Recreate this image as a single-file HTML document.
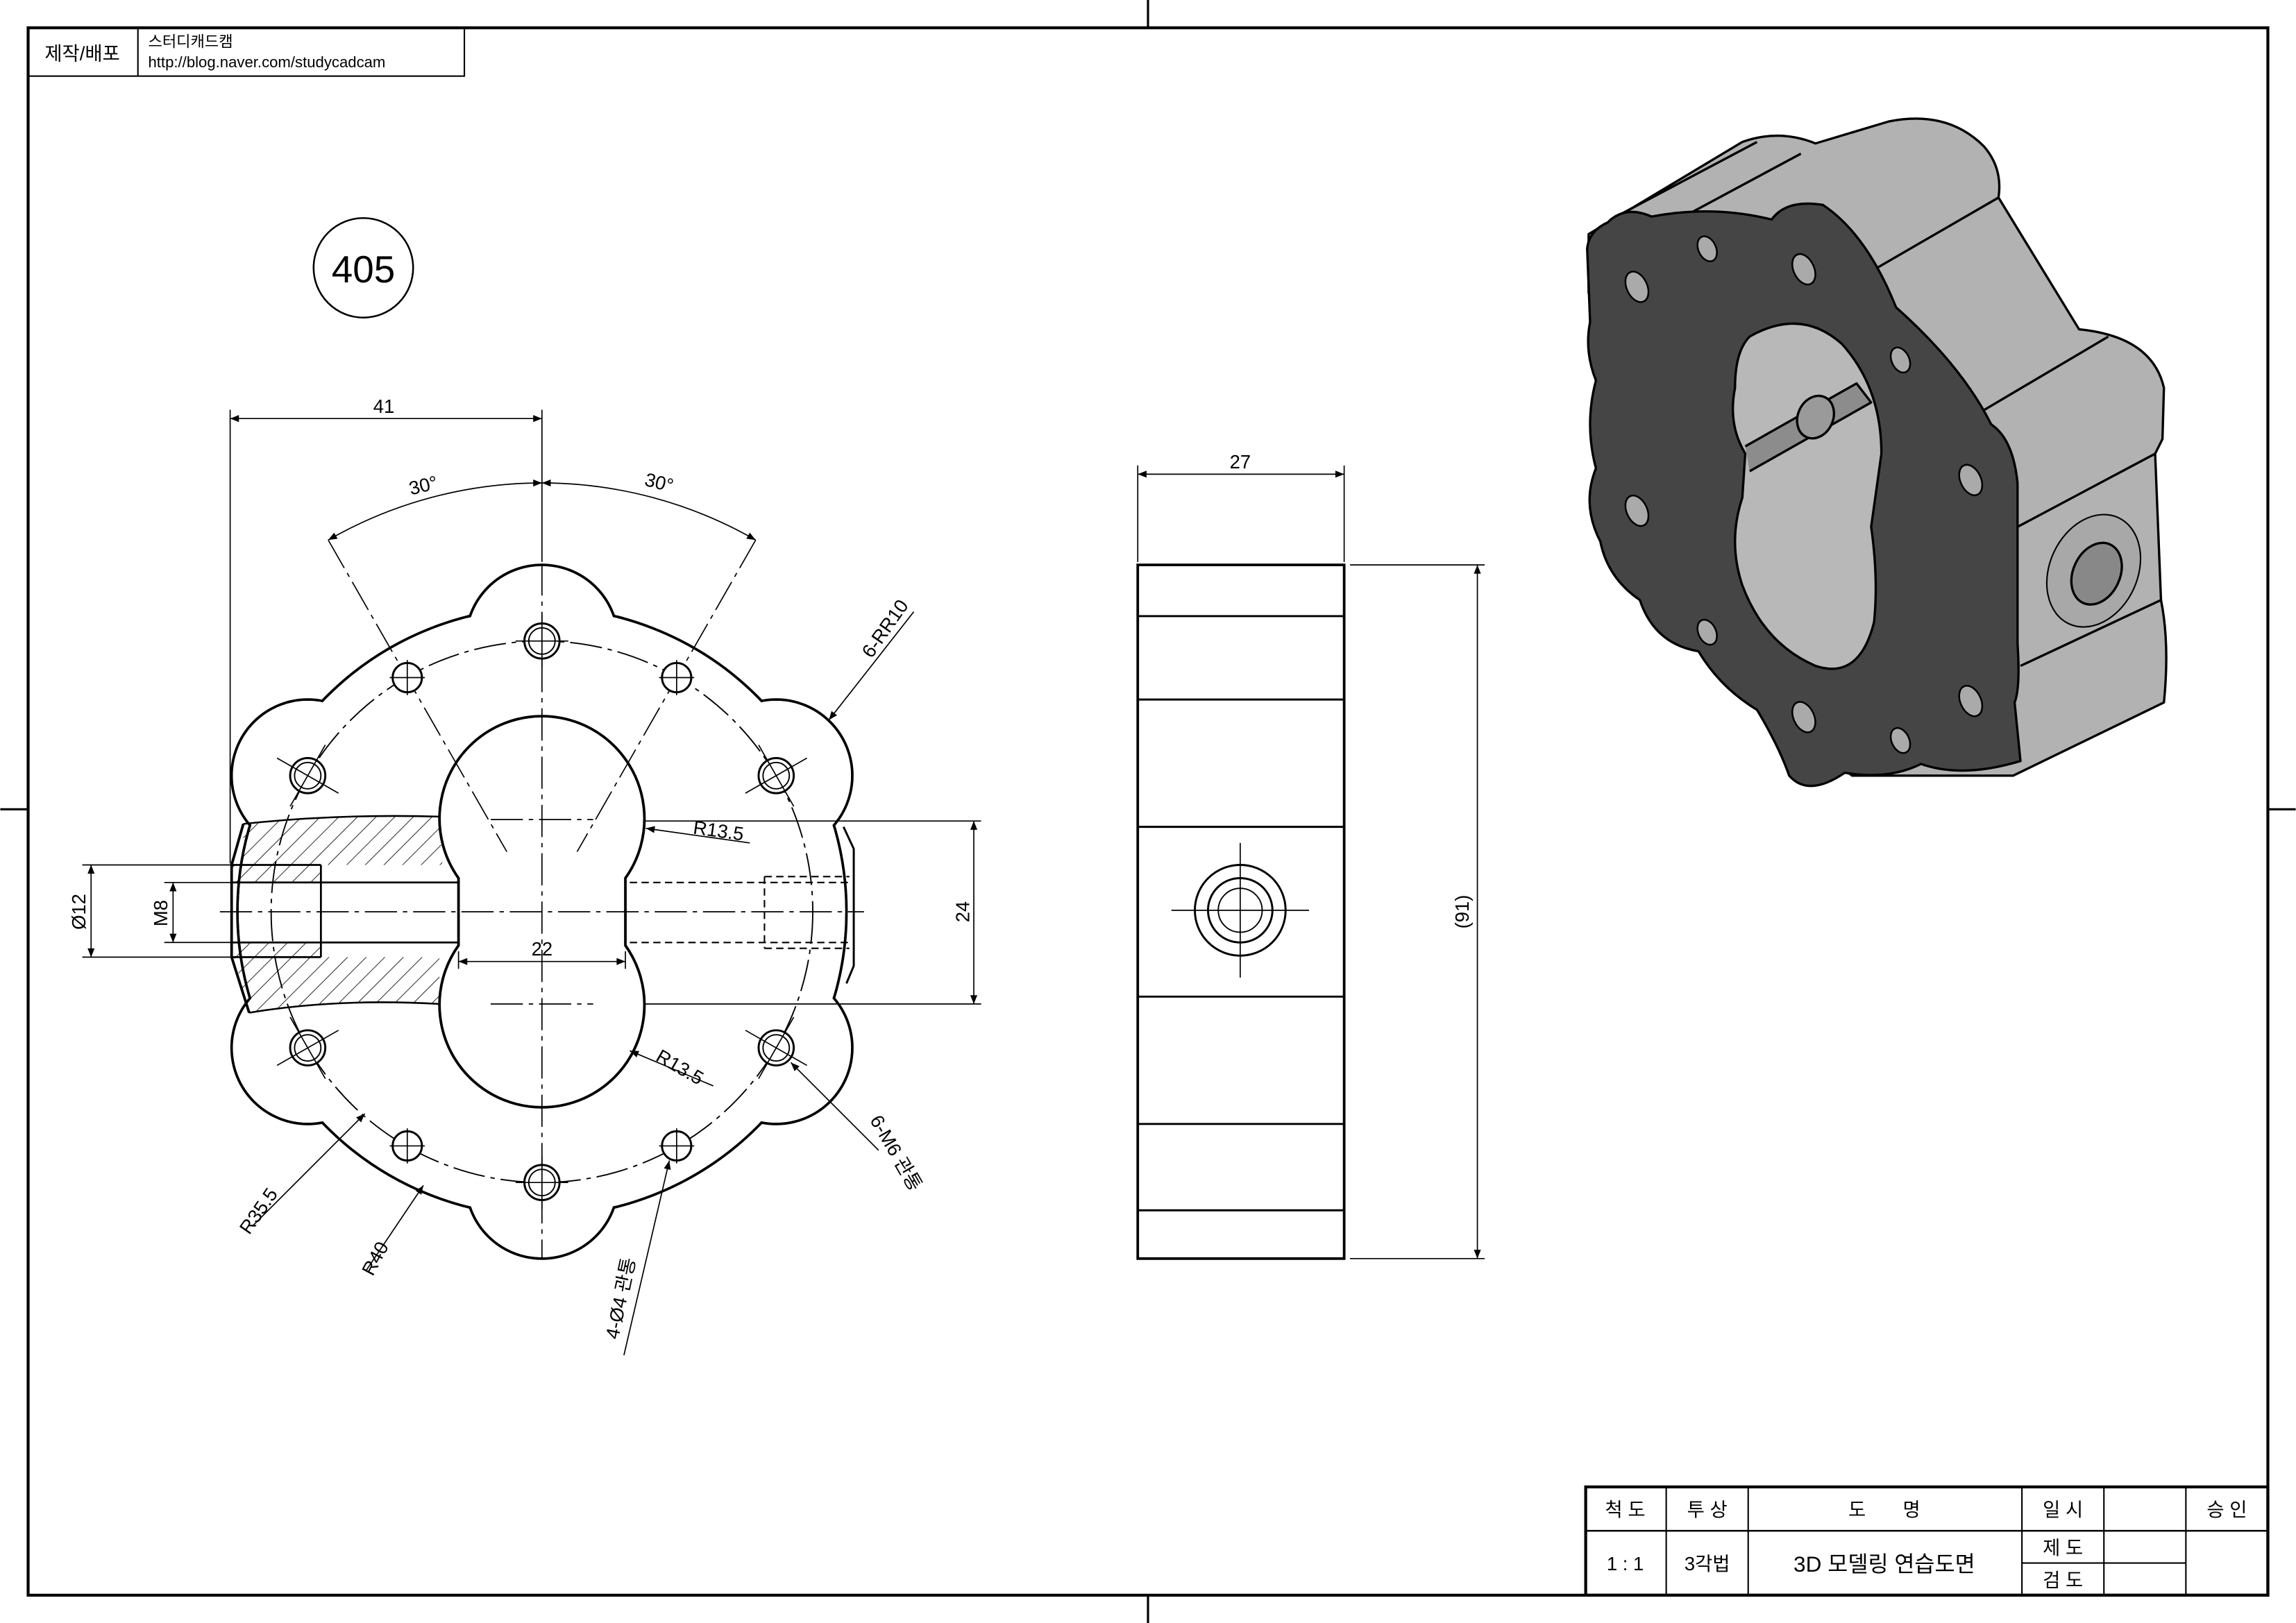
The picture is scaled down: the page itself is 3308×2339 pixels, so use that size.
<!DOCTYPE html>
<html><head><meta charset="utf-8"><style>
html,body{margin:0;padding:0;background:#fff;}
svg{display:block;}
text{font-family:"Liberation Sans","Noto Sans CJK KR",sans-serif;fill:#000;}
</style></head><body>
<svg width="3308" height="2339" viewBox="0 0 1568 1109" xmlns="http://www.w3.org/2000/svg">
<defs>
<pattern id="hat" width="9" height="9" patternUnits="userSpaceOnUse" patternTransform="rotate(45)">
<line x1="0" y1="0" x2="0" y2="9" stroke="#000" stroke-width="0.8"/>
</pattern>
<marker id="ar" viewBox="0 0 10 10" refX="10" refY="5" markerWidth="9" markerHeight="6" orient="auto-start-reverse" markerUnits="userSpaceOnUse">
<path d="M0,1 L10,5 L0,9 z" fill="#000"/>
</marker>
</defs>
<rect width="1568" height="1109" fill="#fff"/>
<rect x="19" y="19" width="1530" height="1071" fill="none" stroke="#000" stroke-width="2"/>
<g stroke="#000" stroke-width="1.5">
<line x1="784" y1="0" x2="784" y2="19"/><line x1="784" y1="1090" x2="784" y2="1109"/>
<line x1="0" y1="553" x2="19" y2="553"/><line x1="1549" y1="553" x2="1568" y2="553"/>
</g>
<rect x="19" y="19" width="298" height="33" fill="none" stroke="#000" stroke-width="1"/>
<line x1="94" y1="19" x2="94" y2="52" stroke="#000"/>
<text x="56" y="41" font-size="13" text-anchor="middle">제작/배포</text>
<text x="101" y="32" font-size="10.5">스터디캐드캠</text>
<text x="101" y="46" font-size="10.5">http://blog.naver.com/studycadcam</text>
<circle cx="248" cy="183" r="34" fill="none" stroke="#000" stroke-width="1.2"/>
<text x="248" y="193" font-size="26" text-anchor="middle">405</text>

<g stroke="#000" stroke-width="1.8" fill="#fff">
<circle cx="370" cy="623" r="208"/>
<circle cx="370" cy="438" r="52"/><circle cx="370" cy="808" r="52"/>
<circle cx="210" cy="530" r="52"/><circle cx="530" cy="530" r="52"/>
<circle cx="210" cy="716" r="52"/><circle cx="530" cy="716" r="52"/>
</g>
<g fill="#fff" stroke="none">
<circle cx="370" cy="623" r="207.1"/>
<circle cx="370" cy="438" r="51.1"/><circle cx="370" cy="808" r="51.1"/>
<circle cx="210" cy="530" r="51.1"/><circle cx="530" cy="530" r="51.1"/>
<circle cx="210" cy="716" r="51.1"/><circle cx="530" cy="716" r="51.1"/>
</g>
<path d="M166,563 Q230,556 300,558 L302,591 L219,591 L219,603 L158,603 L158,591 L166,591 Z" fill="url(#hat)" stroke="none"/>
<path d="M158,644 L219,644 L219,654 L300,654 L300,686 Q230,682 170,692 L160,655 Z" fill="url(#hat)" stroke="none"/>
<path d="M166,563 Q230,556 300,558" fill="none" stroke="#000" stroke-width="1.2"/>
<path d="M170,692 Q230,682 300,686" fill="none" stroke="#000" stroke-width="1.2"/>
<path d="M166,563 L158,591 L158,654 L170,692" fill="none" stroke="#000" stroke-width="1.8"/>
<path d="M313,600 A70,70 0 1 1 427,600 L427,646 A70,70 0 1 1 313,646 Z" fill="#fff" stroke="#000" stroke-width="1.8"/>
<g stroke="#000" stroke-width="1.3" fill="none">
<line x1="158" y1="591" x2="219" y2="591"/><line x1="158" y1="654" x2="219" y2="654"/>
<line x1="219" y1="591" x2="219" y2="654"/>
<line x1="158" y1="603" x2="313" y2="603"/><line x1="158" y1="644" x2="313" y2="644"/>
</g>
<g stroke="#000" stroke-width="1" fill="none" stroke-dasharray="5,3">
<line x1="430" y1="603" x2="580" y2="603"/><line x1="430" y1="644" x2="580" y2="644"/>
<line x1="522" y1="599" x2="522" y2="648"/>
<line x1="522" y1="599" x2="580" y2="599"/><line x1="522" y1="648" x2="580" y2="648"/>
</g>
<path d="M576,565 L583,580 L583,660 L578,672" fill="none" stroke="#000" stroke-width="1.4"/>
<circle cx="370" cy="623" r="185" fill="none" stroke="#000" stroke-width="0.9" stroke-dasharray="22,4,3,4"/>
<g stroke="#000" stroke-width="0.8" stroke-dasharray="22,4,3,4" fill="none">
<line x1="370" y1="385" x2="370" y2="860"/>
<line x1="150" y1="623" x2="590" y2="623"/>
<line x1="335" y1="560" x2="405" y2="560"/><line x1="335" y1="686" x2="405" y2="686"/>
<line x1="224" y1="369" x2="346" y2="582"/><line x1="516" y1="369" x2="394" y2="582"/>
</g>
<g stroke="#000" fill="#fff">
<g stroke-width="1.4"><circle cx="370" cy="438" r="12"/><circle cx="370" cy="808" r="12"/><circle cx="210" cy="530" r="12"/><circle cx="530" cy="530" r="12"/><circle cx="210" cy="716" r="12"/><circle cx="530" cy="716" r="12"/></g>
<g stroke-width="0.9" fill="none"><circle cx="370" cy="438" r="9"/><circle cx="370" cy="808" r="9"/><circle cx="210" cy="530" r="9"/><circle cx="530" cy="530" r="9"/><circle cx="210" cy="716" r="9"/><circle cx="530" cy="716" r="9"/></g>
<g stroke-width="1.4"><circle cx="278" cy="463" r="10"/><circle cx="462" cy="463" r="10"/><circle cx="278" cy="783" r="10"/><circle cx="462" cy="783" r="10"/></g>
</g>
<g stroke="#000" stroke-width="0.8">
<line x1="370" y1="420" x2="370" y2="456"/><line x1="352" y1="438" x2="388" y2="438"/>
<line x1="370" y1="790" x2="370" y2="826"/><line x1="352" y1="808" x2="388" y2="808"/>
<line x1="189" y1="518" x2="231" y2="542"/><line x1="198" y1="551" x2="222" y2="509"/>
<line x1="509" y1="542" x2="551" y2="518"/><line x1="518" y1="509" x2="542" y2="551"/>
<line x1="189" y1="728" x2="231" y2="704"/><line x1="198" y1="695" x2="222" y2="737"/>
<line x1="509" y1="704" x2="551" y2="728"/><line x1="518" y1="737" x2="542" y2="695"/>
<line x1="266" y1="463" x2="290" y2="463"/><line x1="278" y1="451" x2="278" y2="475"/>
<line x1="450" y1="463" x2="474" y2="463"/><line x1="462" y1="451" x2="462" y2="475"/>
<line x1="266" y1="783" x2="290" y2="783"/><line x1="278" y1="771" x2="278" y2="795"/>
<line x1="450" y1="783" x2="474" y2="783"/><line x1="462" y1="771" x2="462" y2="795"/>
</g>
<g stroke="#000" stroke-width="0.8" fill="none">
<line x1="157" y1="280" x2="157" y2="590"/><line x1="370" y1="280" x2="370" y2="384"/>
<line x1="157" y1="286" x2="370" y2="286" marker-start="url(#ar)" marker-end="url(#ar)"/>
<path d="M224,369 A293,293 0 0 1 370,330" marker-start="url(#ar)" marker-end="url(#ar)"/>
<path d="M370,330 A293,293 0 0 1 516,369" marker-start="url(#ar)" marker-end="url(#ar)"/>
<line x1="440" y1="561" x2="670" y2="561"/><line x1="440" y1="686" x2="670" y2="686"/>
<line x1="665" y1="561" x2="665" y2="686" marker-start="url(#ar)" marker-end="url(#ar)"/>
<line x1="56" y1="591" x2="158" y2="591"/><line x1="56" y1="654" x2="158" y2="654"/>
<line x1="62" y1="591" x2="62" y2="654" marker-start="url(#ar)" marker-end="url(#ar)"/>
<line x1="112" y1="603" x2="158" y2="603"/><line x1="112" y1="644" x2="158" y2="644"/>
<line x1="118" y1="603" x2="118" y2="644" marker-start="url(#ar)" marker-end="url(#ar)"/>
<line x1="313" y1="650" x2="313" y2="662"/><line x1="427" y1="650" x2="427" y2="662"/>
<line x1="313" y1="657" x2="427" y2="657" marker-start="url(#ar)" marker-end="url(#ar)"/>
<line x1="512" y1="576" x2="441" y2="566" marker-end="url(#ar)"/>
<line x1="487" y1="742" x2="430" y2="718" marker-end="url(#ar)"/>
<line x1="624" y1="418" x2="566" y2="492" marker-end="url(#ar)"/>
<line x1="600" y1="786" x2="540" y2="726" marker-end="url(#ar)"/>
<line x1="172" y1="838" x2="249" y2="761" marker-end="url(#ar)"/>
<line x1="250" y1="868" x2="289" y2="810" marker-end="url(#ar)"/>
<line x1="426" y1="926" x2="457" y2="793" marker-end="url(#ar)"/>
</g>
<g font-size="13">
<text x="262" y="282" text-anchor="middle">41</text>
<text x="290" y="336" text-anchor="middle" transform="rotate(-14 290 336)">30°</text>
<text x="449" y="334" text-anchor="middle" transform="rotate(14 449 334)">30°</text>
<text x="370" y="653" text-anchor="middle">22</text>
<text x="490" y="572" text-anchor="middle" transform="rotate(8 490 572)">R13.5</text>
<text x="462" y="733" text-anchor="middle" transform="rotate(30 462 733)">R13.5</text>
<text x="662" y="623" text-anchor="middle" transform="rotate(-90 662 623)">24</text>
<text x="58" y="623" text-anchor="middle" transform="rotate(-90 58 623)">Ø12</text>
<text x="114" y="624" text-anchor="middle" transform="rotate(-90 114 624)">M8</text>
<text x="608" y="432" text-anchor="middle" transform="rotate(-55 608 432)">6-RR10</text>
<text x="608" y="790" text-anchor="middle" transform="rotate(60 608 790)">6-M6 관통</text>
<text x="180" y="830" text-anchor="middle" transform="rotate(-55 180 830)">R35.5</text>
<text x="260" y="862" text-anchor="middle" transform="rotate(-62 260 862)">R40</text>
<text x="428" y="888" text-anchor="middle" transform="rotate(-78 428 888)">4-Ø4 관통</text>
</g>

<rect x="777" y="386" width="141" height="474" fill="#fff" stroke="#000" stroke-width="1.8"/>
<g stroke="#000" stroke-width="1.4">
<line x1="777" y1="421" x2="918" y2="421"/><line x1="777" y1="478" x2="918" y2="478"/>
<line x1="777" y1="565" x2="918" y2="565"/><line x1="777" y1="681" x2="918" y2="681"/>
<line x1="777" y1="768" x2="918" y2="768"/><line x1="777" y1="827" x2="918" y2="827"/>
</g>
<circle cx="847" cy="622" r="31" fill="none" stroke="#000" stroke-width="1.4"/>
<circle cx="847" cy="622" r="22" fill="none" stroke="#000" stroke-width="1.4"/>
<circle cx="847" cy="622" r="15" fill="none" stroke="#000" stroke-width="0.9"/>
<g stroke="#000" stroke-width="0.8">
<line x1="800" y1="622" x2="894" y2="622"/><line x1="847" y1="576" x2="847" y2="668"/>
</g>
<g stroke="#000" stroke-width="0.8" fill="none">
<line x1="777" y1="318" x2="777" y2="384"/><line x1="918" y1="318" x2="918" y2="384"/>
<line x1="777" y1="324" x2="918" y2="324" marker-start="url(#ar)" marker-end="url(#ar)"/>
<line x1="922" y1="386" x2="1014" y2="386"/><line x1="922" y1="860" x2="1014" y2="860"/>
<line x1="1009" y1="386" x2="1009" y2="860" marker-start="url(#ar)" marker-end="url(#ar)"/>
</g>
<text x="847" y="320" font-size="13" text-anchor="middle">27</text>
<text x="1003" y="623" font-size="13" text-anchor="middle" transform="rotate(-90 1003 623)">(91)</text>

<g stroke="#000" stroke-width="1.6" stroke-linejoin="round">
<path d="M1085,160 L1190,97 Q1215,88 1240,98 L1290,83 Q1330,75 1355,100 Q1368,115 1365,135 L1420,225 Q1470,230 1478,265 L1477,300 L1472,310 L1476,410 Q1482,440 1478,480 L1375,530 L1265,530 L1200,480 L1085,200 Z" fill="#b2b2b2"/>
<path d="M1365,135 L1270,190" fill="none"/>
<path d="M1440,230 L1352,282" fill="none"/>
<path d="M1472,310 L1378,360" fill="none"/>
<path d="M1476,410 L1380,455" fill="none"/>
<path d="M1200,97 L1100,150" fill="none"/>
<path d="M1230,105 L1150,148" fill="none"/>
<path d="M1098,152 Q1110,140 1128,148 Q1170,140 1210,150 Q1220,136 1245,140 Q1275,160 1295,210 Q1340,250 1360,290 Q1375,300 1378,330 L1378,440 Q1380,470 1376,480 L1380,520 Q1340,532 1312,522 Q1290,533 1260,528 Q1235,545 1222,530 Q1215,510 1200,485 Q1175,470 1160,445 Q1130,440 1120,410 Q1098,395 1093,370 Q1080,345 1090,320 Q1082,290 1090,260 Q1082,240 1086,220 L1084,170 Q1085,158 1098,152 Z" fill="#454545"/>
<path d="M1195,230 Q1230,210 1258,235 Q1285,265 1285,310 L1278,360 Q1283,395 1280,425 Q1270,465 1240,455 Q1205,440 1190,400 Q1180,370 1190,340 L1192,310 Q1180,290 1185,265 Q1185,240 1195,230 Z" fill="#b8b8b8"/>
<path d="M1192,305 L1268,262 L1278,275 L1195,322" fill="#8c8c8c"/>
<ellipse cx="1240" cy="285" rx="12" ry="15" transform="rotate(25 1240 285)" fill="#9a9a9a"/>
<ellipse cx="1430" cy="390" rx="30" ry="40" transform="rotate(25 1430 390)" fill="#a8a8a8" stroke-width="1"/>
<ellipse cx="1432" cy="392" rx="16" ry="22" transform="rotate(25 1432 392)" fill="#888"/>
</g>
<g fill="#aaa" stroke="#000" stroke-width="1.2">
<ellipse cx="1118" cy="196" rx="7" ry="11" transform="rotate(-25 1118 196)"/>
<ellipse cx="1166" cy="170" rx="6" ry="9" transform="rotate(-25 1166 170)"/>
<ellipse cx="1232" cy="184" rx="7" ry="11" transform="rotate(-25 1232 184)"/>
<ellipse cx="1298" cy="246" rx="6" ry="9" transform="rotate(-25 1298 246)"/>
<ellipse cx="1346" cy="328" rx="7" ry="11" transform="rotate(-25 1346 328)"/>
<ellipse cx="1346" cy="479" rx="7" ry="11" transform="rotate(-25 1346 479)"/>
<ellipse cx="1298" cy="506" rx="6" ry="9" transform="rotate(-25 1298 506)"/>
<ellipse cx="1232" cy="490" rx="7" ry="11" transform="rotate(-25 1232 490)"/>
<ellipse cx="1166" cy="432" rx="6" ry="9" transform="rotate(-25 1166 432)"/>
<ellipse cx="1118" cy="349" rx="7" ry="11" transform="rotate(-25 1118 349)"/>
</g>

<g stroke="#000" fill="none">
<rect x="1083" y="1016" width="466" height="74" stroke-width="2"/>
<line x1="1083" y1="1046" x2="1549" y2="1046" stroke-width="1.2"/>
<line x1="1138" y1="1016" x2="1138" y2="1090"/>
<line x1="1194" y1="1016" x2="1194" y2="1090"/>
<line x1="1381" y1="1016" x2="1381" y2="1090"/>
<line x1="1437" y1="1016" x2="1437" y2="1090"/>
<line x1="1493" y1="1016" x2="1493" y2="1090"/>
<line x1="1381" y1="1068" x2="1493" y2="1068"/>
</g>
<g font-size="13" text-anchor="middle">
<text x="1110" y="1036">척 도</text>
<text x="1166" y="1036">투 상</text>
<text x="1287" y="1036">도&#160;&#160;&#160;&#160;&#160;&#160;&#160;명</text>
<text x="1409" y="1036">일 시</text>
<text x="1521" y="1036">승 인</text>
<text x="1110" y="1073">1 : 1</text>
<text x="1166" y="1073">3각법</text>
<text x="1287" y="1074" font-size="15">3D 모델링 연습도면</text>
<text x="1409" y="1062">제 도</text>
<text x="1409" y="1084">검 도</text>
</g>
</svg>
</body></html>
